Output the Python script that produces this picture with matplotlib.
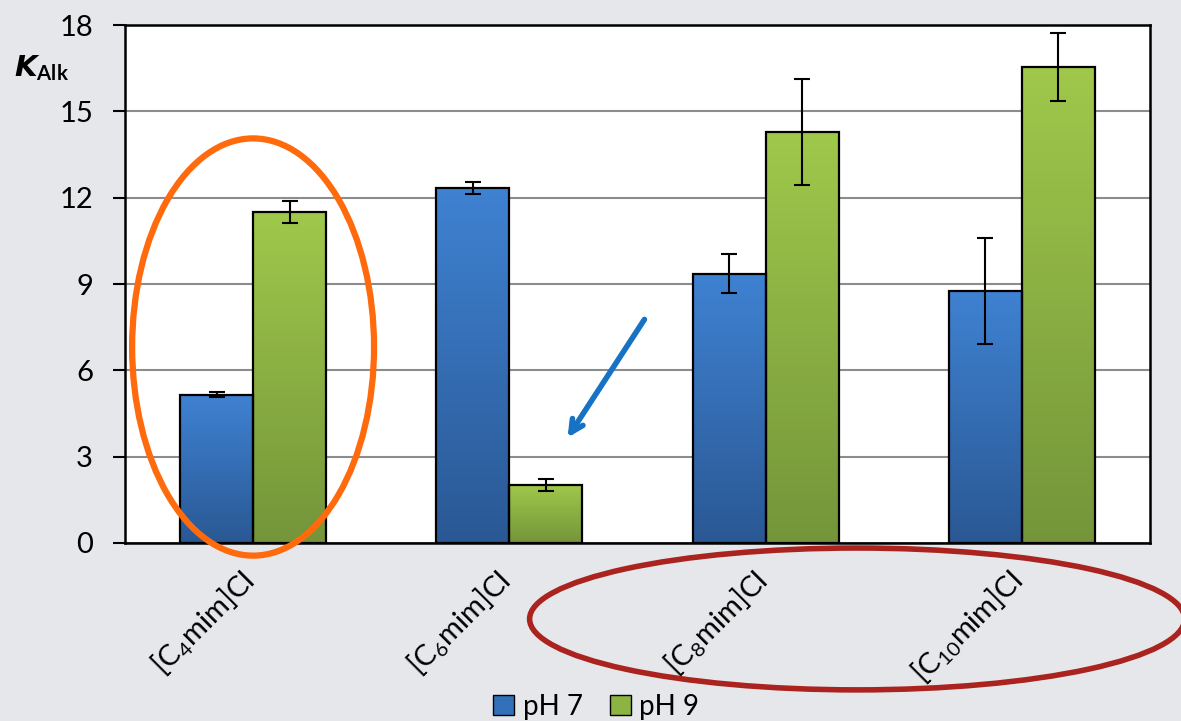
import numpy as np
import matplotlib

matplotlib.use("Agg")
import matplotlib.pyplot as plt
from matplotlib.patches import Ellipse, Patch, Rectangle
from matplotlib.colors import LinearSegmentedColormap

plt.rcParams["font.family"] = ["Lato", "DejaVu Sans"]
plt.rcParams["mathtext.fontset"] = "custom"
plt.rcParams["mathtext.rm"] = "Lato"
plt.rcParams["mathtext.it"] = "Lato:italic"
plt.rcParams["mathtext.bf"] = "Lato:bold"

# alkyl chain length of the ionic liquid
categories = [r"[C$_{4}$mim]Cl", r"[C$_{6}$mim]Cl", r"[C$_{8}$mim]Cl", r"[C$_{10}$mim]Cl"]
series = ["pH 7", "pH 9"]
k_ph7 = [5.15, 12.33, 9.35, 8.76]
err_ph7 = [0.08, 0.2, 0.68, 1.83]
k_ph9 = [11.5, 2.02, 14.28, 16.54]
err_ph9 = [0.37, 0.2, 1.84, 1.18]

BG = "#E6E7EB"
BLUE_TOP, BLUE_BOT = "#3F82D2", "#2A5894"
GREEN_TOP, GREEN_BOT = "#A0C84B", "#74953A"

fig = plt.figure(figsize=(11.81, 7.21), dpi=100)
fig.patch.set_facecolor(BG)
ax = fig.add_axes([0.1058, 0.2469, 0.868, 0.7184])
ax.set_facecolor("white")

x = np.arange(len(categories))
w = 0.285
ax.set_xlim(-0.5, len(categories) - 0.5)
ax.set_ylim(0, 18)


def gradient_bar(x0, height, top, bottom):
    cmap = LinearSegmentedColormap.from_list("g", [bottom, top])
    grad = np.linspace(0, 1, 256).reshape(-1, 1)
    ax.imshow(grad, cmap=cmap, origin="lower", aspect="auto",
              extent=(x0, x0 + w, 0, height), zorder=2)
    ax.add_patch(Rectangle((x0, 0), w, height, fill=False,
                           edgecolor="black", linewidth=1.6, zorder=3))


for xi, v in zip(x, k_ph7):
    gradient_bar(xi - w, v, BLUE_TOP, BLUE_BOT)
for xi, v in zip(x, k_ph9):
    gradient_bar(xi, v, GREEN_TOP, GREEN_BOT)

ax.errorbar(x - w / 2, k_ph7, yerr=err_ph7, fmt="none", ecolor="black",
            elinewidth=1.5, capsize=6, capthick=1.5, zorder=4)
ax.errorbar(x + w / 2, k_ph9, yerr=err_ph9, fmt="none", ecolor="black",
            elinewidth=1.5, capsize=6, capthick=1.5, zorder=4)

ax.set_xlim(-0.5, len(categories) - 0.5)
ax.set_ylim(0, 18)
ax.set_yticks(np.arange(0, 19, 3))
ax.yaxis.grid(True, color="#8C8C8C", linewidth=1.5)
ax.set_axisbelow(True)
ax.tick_params(axis="y", labelsize=21, length=9, width=1.5, pad=14)
ax.set_xticks(x)
ax.set_xticklabels([])
ax.tick_params(axis="x", length=0)
for s in ax.spines.values():
    s.set_linewidth(1.8)
    s.set_color("black")

for xi, lab in zip(x, categories):
    ax.text(xi + 0.03, -0.8, lab, rotation=45, ha="right", va="top", fontsize=21,
            transform=ax.transData, clip_on=False)

fig.text(0.012, 0.905, r"$\mathbfit{K}_{\mathbf{Alk}}$", fontsize=21, ha="left", va="center")

# highlight rings and arrow
ax.add_patch(Ellipse((0.0, 6.81), 0.944, 14.5, fill=False, edgecolor="#FF6A0D",
                     linewidth=4.5, clip_on=False, zorder=6))
ax.add_patch(Ellipse((2.357, -2.64), 2.556, 4.93, fill=False, edgecolor="#AA231E",
                     linewidth=4, clip_on=False, zorder=6))
ax.annotate("", xy=(1.221, 3.58), xytext=(1.533, 7.85),
            arrowprops=dict(arrowstyle="->,head_length=0.9,head_width=0.45",
                            color="#1672C4", linewidth=4), zorder=6)

handles = [Patch(facecolor="#3270BA", edgecolor="black", label=series[0]),
           Patch(facecolor="#8CB443", edgecolor="black", label=series[1])]
fig.legend(handles=handles, loc="center", bbox_to_anchor=(0.505, 0.02), ncol=2,
           frameon=False, fontsize=20, handlelength=0.75, handleheight=0.75,
           handletextpad=0.3, columnspacing=1.0)

fig.savefig("out.png", facecolor=BG)
